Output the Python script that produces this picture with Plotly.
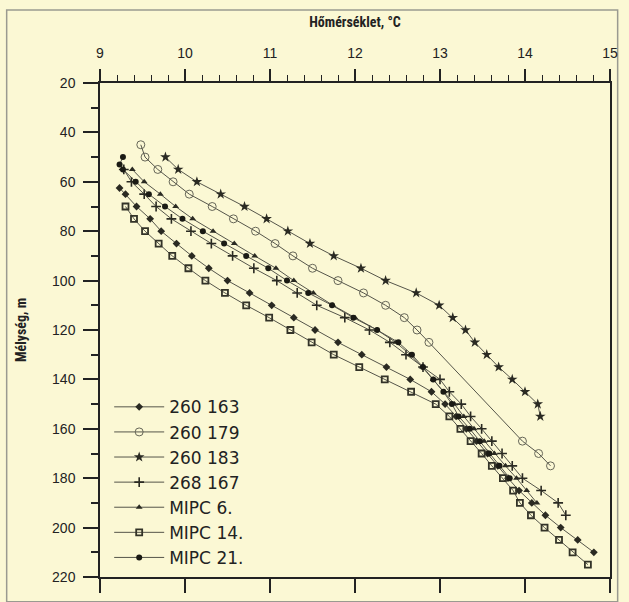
import plotly.graph_objects as go

# ---- data (depth in m, temperature in °C) ----
d_260163 = [62.5, 65, 70, 75, 80, 85, 90, 95, 100, 105, 110, 115, 120, 125, 130, 135, 140, 145,
            150, 155, 160, 165, 170, 175, 180, 185, 190, 195, 200, 205, 210]
t_260163 = [9.23, 9.30, 9.43, 9.59, 9.72, 9.90, 10.08, 10.28, 10.50, 10.76, 11.02, 11.28, 11.53,
            11.80, 12.08, 12.37, 12.65, 12.90, 13.06, 13.19, 13.31, 13.43, 13.56, 13.68, 13.80,
            13.93, 14.08, 14.24, 14.42, 14.62, 14.81]

d_260179 = [45, 50, 55, 60, 65, 70, 75, 80, 85, 90, 95, 100, 105, 110, 115, 120, 125, 165, 170, 175]
t_260179 = [9.48, 9.53, 9.68, 9.86, 10.05, 10.32, 10.57, 10.83, 11.06, 11.27, 11.50, 11.80, 12.10,
            12.36, 12.58, 12.73, 12.87, 13.97, 14.16, 14.30]

d_260183 = [50, 55, 60, 65, 70, 75, 80, 85, 90, 95, 100, 105, 110, 115, 120, 125, 130, 135, 140,
            145, 150, 155]
t_260183 = [9.77, 9.92, 10.14, 10.42, 10.70, 10.96, 11.21, 11.47, 11.75, 12.07, 12.36, 12.72, 12.99,
            13.15, 13.30, 13.41, 13.55, 13.69, 13.85, 14.00, 14.15, 14.18]

d_268167 = [55, 60, 65, 70, 75, 80, 85, 90, 95, 100, 105, 110, 115, 120, 125, 130, 135, 140, 145,
            150, 155, 160, 165, 170, 175, 180, 185, 190, 195]
t_268167 = [9.28, 9.37, 9.52, 9.66, 9.84, 10.07, 10.31, 10.56, 10.81, 11.08, 11.32, 11.55, 11.88,
            12.17, 12.41, 12.60, 12.80, 13.00, 13.11, 13.25, 13.36, 13.49, 13.61, 13.73, 13.85,
            13.97, 14.19, 14.39, 14.48]

d_mipc6 = [55, 60, 65, 70, 75, 80, 85, 90, 95, 100, 105, 110, 115, 120, 125, 130, 135, 140, 145,
           150, 155, 160, 165, 170, 175, 180, 185, 190]
t_mipc6 = [9.38, 9.52, 9.71, 9.89, 10.09, 10.33, 10.58, 10.82, 11.07, 11.28, 11.51, 11.74, 12.00,
           12.26, 12.48, 12.65, 12.79, 12.92, 13.05, 13.17, 13.28, 13.40, 13.52, 13.64, 13.77,
           13.90, 14.02, 14.14]

d_mipc14 = [70, 75, 80, 85, 90, 95, 100, 105, 110, 115, 120, 125, 130, 135, 140, 145, 150, 155,
            160, 165, 170, 175, 180, 185, 190, 195, 200, 205, 210, 215]
t_mipc14 = [9.30, 9.40, 9.53, 9.69, 9.85, 10.04, 10.24, 10.47, 10.72, 10.99, 11.24, 11.49, 11.75,
            12.05, 12.35, 12.66, 12.95, 13.11, 13.24, 13.36, 13.49, 13.61, 13.74, 13.86, 13.94,
            14.07, 14.23, 14.40, 14.56, 14.74]

d_mipc21 = [50, 53, 55, 60, 65, 70, 75, 80, 85, 90, 95, 100, 105, 110, 115, 120, 125, 130, 135,
            140, 145, 150, 155, 160, 165, 170, 175, 180]
t_mipc21 = [9.27, 9.23, 9.27, 9.42, 9.575, 9.765, 9.97, 10.21, 10.46, 10.72, 10.98, 11.20, 11.45,
            11.73, 11.98, 12.26, 12.51, 12.67, 12.80, 12.92, 13.04, 13.14, 13.22, 13.35, 13.47,
            13.58, 13.70, 13.82]

x_ticks = [9, 10, 11, 12, 13, 14, 15]
y_ticks = [20, 40, 60, 80, 100, 120, 140, 160, 180, 200, 220]

series = [
    ("260 163", t_260163, d_260163, dict(symbol="diamond", size=6, color="#2a2a22")),
    ("260 179", t_260179, d_260179, dict(symbol="circle-open", size=8, color="#666658", line=dict(width=1))),
    ("260 183", t_260183, d_260183, dict(symbol="star", size=8, color="#2a2a22")),
    ("268 167", t_268167, d_268167, dict(symbol="cross-thin-open", size=7, color="#2a2a22", line=dict(width=1.6))),
    ("MIPC 6.", t_mipc6, d_mipc6, dict(symbol="triangle-up", size=6, color="#2a2a22")),
    ("MIPC 14.", t_mipc14, d_mipc14, dict(symbol="square-open", size=6, color="#333328", line=dict(width=1.8))),
    ("MIPC 21.", t_mipc21, d_mipc21, dict(symbol="circle", size=6, color="#1a1a14")),
]

LINE = "#55554a"
BG = "#FBF8D4"

fig = go.Figure()
for name, t, d, mk in series:
    fig.add_trace(go.Scatter(x=t, y=d, name=name, mode="lines+markers",
                             line=dict(color=LINE, width=1), marker=mk))

# invisible trace for the bottom axis
fig.add_trace(go.Scatter(x=[9, 15], y=[220, 220], xaxis="x2", mode="markers",
                         marker=dict(opacity=0), showlegend=False, hoverinfo="skip"))

tickfont = dict(family="Liberation Sans, Arial, sans-serif", size=14, color="#222")
titlefont = dict(family="Liberation Sans Narrow, Roboto Condensed, Arial Narrow, sans-serif",
                 size=14, color="#222")

fig.update_layout(
    width=629, height=602,
    margin=dict(l=100, r=11, t=83, b=23),
    paper_bgcolor=BG, plot_bgcolor=BG,
    showlegend=True,
    legend=dict(x=0.018, y=0.38, xanchor="left", yanchor="top", itemwidth=50,
                bgcolor="rgba(0,0,0,0)", font=dict(family="DejaVu Sans, sans-serif",
                                                  size=17, color="#222"),
                tracegroupgap=0),
    xaxis=dict(side="top", range=[9, 15], tickvals=x_ticks, ticks="outside", ticklen=12,
               tickwidth=1.5, tickcolor="#222", showline=True, linecolor="#222", linewidth=1.5,
               mirror=True, showgrid=False, zeroline=False, tickfont=tickfont,
               ticklabelstandoff=6,
               minor=dict(dtick=0.2, tick0=9, ticks="outside", ticklen=6, tickwidth=1.2,
                          tickcolor="#222", showgrid=False),
               title=dict(text="<b>Hőmérséklet, °C</b>", font=titlefont, standoff=14)),
    xaxis2=dict(overlaying="x", side="bottom", anchor="y", range=[9, 15], tickvals=x_ticks,
                ticks="outside", ticklen=14, tickwidth=1.5, tickcolor="#222",
                showticklabels=False, showline=True, linecolor="#222", linewidth=1.5,
                showgrid=False, zeroline=False),
    yaxis=dict(range=[220, 20], tickvals=y_ticks, ticks="outside", ticklen=15, tickwidth=1.5,
               tickcolor="#222", showline=True, linecolor="#222", linewidth=1.5, mirror=True,
               showgrid=False, zeroline=False, tickfont=tickfont, ticklabelstandoff=5,
               minor=dict(dtick=10, tick0=20, ticks="outside", ticklen=7, tickwidth=1.5,
                          tickcolor="#222", showgrid=False),
               title=dict(text="<b>Mélység, m</b>", font=titlefont, standoff=22)),
    shapes=[dict(type="rect", xref="paper", yref="paper", x0=-0.183, x1=1.015, y0=-0.05, y1=1.148,
                 line=dict(color="#9a9a90", width=1.5), layer="below")],
)

fig.write_html("out.html")
